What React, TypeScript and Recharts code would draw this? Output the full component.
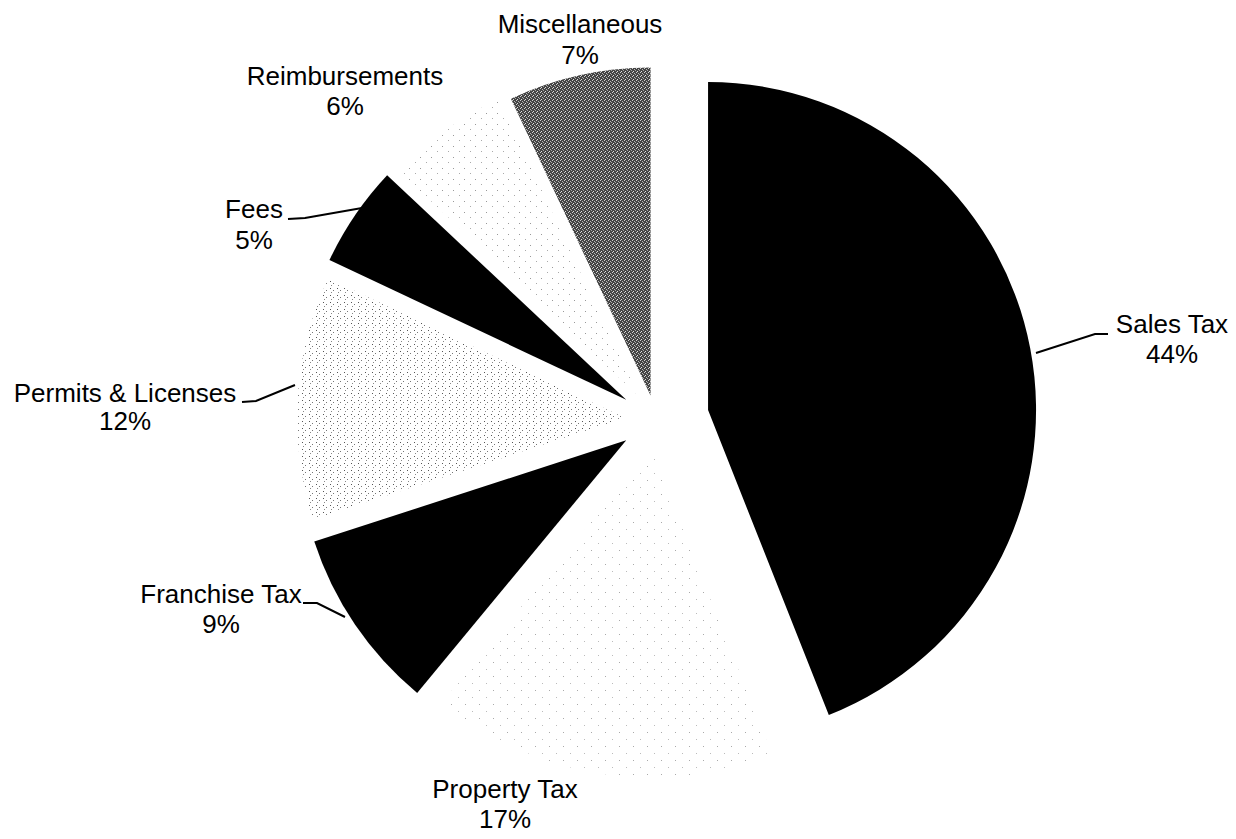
import { PieChart, Pie, Cell, Sector } from 'recharts'

// revenue sources, clockwise from 12 o'clock
const CATEGORIES = [
  'Sales Tax',
  'Property Tax',
  'Franchise Tax',
  'Permits & Licenses',
  'Fees',
  'Reimbursements',
  'Miscellaneous',
]
const SHARES = [44, 17, 9, 12, 5, 6, 7]

// styling: fill per slice and how far each slice is pulled out
const FILLS = [
  '#000000',
  'url(#dotsFaint)',
  '#000000',
  'url(#dotsDense)',
  '#000000',
  'url(#dotsSparse)',
  'url(#speckle)',
]
const EXPLODE = [53, 30, 36, 31, 36, 30, 25]

// hand placed labels (text baseline + leader line points)
const LABEL_LAYOUT = [
  { x: 1172, y: 333, gap: 30, line: [[1036, 353], [1095, 334], [1108, 334]] },
  { x: 505, y: 798, gap: 30, line: null },
  { x: 221, y: 603, gap: 30, line: [[303, 603], [317, 603], [345, 617]] },
  { x: 125, y: 402, gap: 28, line: [[242, 402], [256, 401], [295, 385]] },
  { x: 254, y: 218, gap: 31, line: [[288, 219], [305, 218], [362, 208]] },
  { x: 345, y: 85, gap: 30, line: null },
  { x: 580, y: 33, gap: 31, line: null },
]

const FONT = '"Liberation Sans", Arial, sans-serif'
const RADIAN = Math.PI / 180

const data = CATEGORIES.map((name, i) => ({ name, value: SHARES[i] }))

const indexOf = (props: any) => {
  const name = props.name ?? props.payload?.name
  const i = CATEGORIES.indexOf(name)
  return i >= 0 ? i : props.index ?? 0
}

function ExplodedSector(props: any) {
  const i = indexOf(props)
  const d = EXPLODE[i] ?? 0
  const dx = d * Math.cos(-props.midAngle * RADIAN)
  const dy = d * Math.sin(-props.midAngle * RADIAN)
  return (
    <Sector
      cx={props.cx + dx}
      cy={props.cy + dy}
      innerRadius={props.innerRadius}
      outerRadius={props.outerRadius}
      startAngle={props.startAngle}
      endAngle={props.endAngle}
      fill={FILLS[i]}
      stroke="none"
    />
  )
}

function renderLabel(props: any) {
  const i = indexOf(props)
  const lay = LABEL_LAYOUT[i]
  return (
    <g key={`lbl-${i}`}>
      {lay.line && (
        <polyline
          points={lay.line.map((p) => p.join(',')).join(' ')}
          fill="none"
          stroke="#000"
          strokeWidth={2}
        />
      )}
      <text
        x={lay.x}
        y={lay.y}
        textAnchor="middle"
        fontSize={26}
        fontFamily={FONT}
        fill="#000"
      >
        <tspan x={lay.x} y={lay.y}>
          {CATEGORIES[i]}
        </tspan>
        <tspan x={lay.x} y={lay.y + lay.gap}>
          {SHARES[i]}%
        </tspan>
      </text>
    </g>
  )
}

export default function App() {
  return (
    <div
      style={{
        position: 'absolute',
        left: 0,
        top: 0,
        width: 1236,
        height: 839,
        background: '#fff',
      }}
    >
      <svg width={0} height={0} style={{ position: 'absolute' }}>
        <defs>
          <pattern id="dotsDense" width={7} height={7} patternUnits="userSpaceOnUse">
            <rect width={7} height={7} fill="#fff" />
            <rect x={1} y={1} width={1} height={1} fill="#555" />
            <rect x={4} y={3} width={1} height={1} fill="#777" />
            <rect x={2} y={5} width={1} height={1} fill="#888" />
          </pattern>
          <pattern id="dotsSparse" width={11} height={11} patternUnits="userSpaceOnUse">
            <rect width={11} height={11} fill="#fff" />
            <rect x={2} y={3} width={1} height={1} fill="#999" />
            <rect x={8} y={8} width={1} height={1} fill="#aaa" />
          </pattern>
          <pattern id="dotsFaint" width={14} height={14} patternUnits="userSpaceOnUse">
            <rect width={14} height={14} fill="#fff" />
            <rect x={3} y={4} width={1} height={1} fill="#aaa" />
            <rect x={10} y={11} width={1} height={1} fill="#bbb" />
          </pattern>
          <pattern id="speckle" width={4} height={4} patternUnits="userSpaceOnUse">
            <rect width={4} height={4} fill="#444" />
            <rect x={0} y={0} width={1} height={1} fill="#d0d0d0" />
            <rect x={2} y={1} width={1} height={1} fill="#b8b8b8" />
            <rect x={1} y={3} width={1} height={1} fill="#e0e0e0" />
            <rect x={3} y={2} width={1} height={1} fill="#a8a8a8" />
          </pattern>
        </defs>
      </svg>
      <PieChart width={1236} height={839} margin={{ top: 0, right: 0, bottom: 0, left: 0 }}>
        <Pie
          data={data}
          dataKey="value"
          nameKey="name"
          cx={656}
          cy={420}
          innerRadius={0}
          outerRadius={328}
          startAngle={90}
          endAngle={-270}
          stroke="none"
          isAnimationActive={false}
          labelLine={false}
          label={renderLabel}
          shape={ExplodedSector}
        >
          {data.map((entry, idx) => (
            <Cell key={entry.name} fill={FILLS[idx]} />
          ))}
        </Pie>
      </PieChart>
    </div>
  )
}
